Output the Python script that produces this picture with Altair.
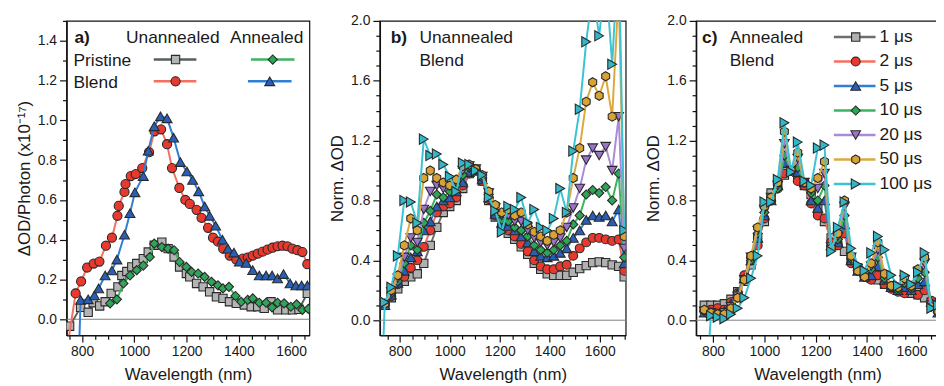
import altair as alt
import pandas as pd

FONT = "Liberation Sans"
INK = "#1a1a1a"
MSTROKE = "#2a2a2a"

# ---------------- Panel a data ----------------
wl_up = [752, 794, 823, 842, 867, 888, 911, 937, 952, 971, 990, 1009, 1034, 1053, 1076, 1105, 1129,
         1152, 1173, 1199, 1212, 1238, 1263, 1288, 1314, 1339, 1364, 1390, 1421, 1447, 1472, 1497,
         1523, 1548, 1580, 1605, 1630, 1662]
val_up = [-0.035, 0.06, 0.035, 0.083, 0.067, 0.088, 0.13, 0.163, 0.22, 0.24, 0.263, 0.28, 0.305,
          0.338, 0.372, 0.388, 0.355, 0.313, 0.263, 0.23, 0.213, 0.18, 0.163, 0.138, 0.113, 0.105,
          0.088, 0.08, 0.072, 0.063, 0.063, 0.055, 0.088, 0.047, 0.047, 0.047, 0.05, 0.13]

wl_ap = [907, 933, 958, 983, 1009, 1034, 1059, 1076, 1105, 1129, 1152, 1173, 1199, 1219, 1244, 1269,
         1295, 1320, 1339, 1362, 1387, 1409, 1434, 1453, 1478, 1504, 1527, 1548, 1573, 1599, 1621,
         1643, 1666]
val_ap = [0.08, 0.10, 0.18, 0.22, 0.247, 0.27, 0.313, 0.38, 0.363, 0.355, 0.347, 0.288, 0.263, 0.238,
          0.23, 0.213, 0.188, 0.17, 0.155, 0.163, 0.117, 0.088, 0.097, 0.105, 0.083, 0.083, 0.06,
          0.083, 0.08, 0.063, 0.075, 0.047, 0.052]

wl_ub = [742, 775, 796, 819, 844, 866, 891, 914, 935, 940, 962, 966, 986, 1005, 1030, 1056, 1077, 1102,
         1125, 1144, 1172, 1195, 1212, 1238, 1257, 1282, 1301, 1320, 1340, 1365, 1390, 1415, 1434,
         1453, 1472, 1491, 1510, 1529, 1548, 1567, 1586, 1605, 1624, 1643, 1662]
val_ub = [-0.15, 0.13, 0.19, 0.26, 0.28, 0.29, 0.37, 0.41, 0.52, 0.57, 0.64, 0.68, 0.72, 0.73, 0.76,
          0.84, 0.945, 0.955, 0.88, 0.76, 0.66, 0.60, 0.58, 0.55, 0.51, 0.46, 0.41, 0.39, 0.355,
          0.32, 0.30, 0.305, 0.31, 0.32, 0.33, 0.34, 0.35, 0.36, 0.367, 0.37, 0.367, 0.355, 0.347,
          0.338, 0.277]

wl_ab = [780, 794, 823, 847, 863, 888, 914, 933, 962, 983, 1002, 1034, 1053, 1076, 1100, 1125, 1150,
         1176, 1201, 1223, 1246, 1269, 1288, 1311, 1337, 1358, 1381, 1402, 1428, 1453, 1478, 1504,
         1527, 1548, 1571, 1596, 1618, 1640, 1662]
val_ab = [-0.5, 0.097, 0.1, 0.12, 0.155, 0.22, 0.245, 0.30, 0.425, 0.533, 0.638, 0.72, 0.847, 0.97,
          1.02, 1.01, 0.913, 0.79, 0.743, 0.70, 0.643, 0.567, 0.52, 0.47, 0.40, 0.355, 0.335, 0.29,
          0.283, 0.247, 0.22, 0.22, 0.22, 0.205, 0.227, 0.18, 0.17, 0.17, 0.17]

# ---------------- Panel b / c data ----------------
delays = ["1 μs", "2 μs", "5 μs", "10 μs", "20 μs", "50 μs", "100 μs"]

wl_b = [724, 740, 766, 792, 818, 844, 870, 896, 922, 948, 974, 1000, 1026, 1052, 1078, 1104, 1130,
        1156, 1182, 1208, 1234, 1260, 1286, 1312, 1338, 1364, 1390, 1416, 1442, 1468, 1494, 1520,
        1546, 1572, 1598, 1624, 1650, 1676, 1698]
N = None
b_1 = [N, 0.10, 0.15, 0.21, 0.26, 0.29, 0.31, 0.38, 0.50, 0.62, 0.72, 0.76, 0.80, 0.88, 0.98, 1.00,
       0.93, 0.80, 0.69, 0.62, 0.58, 0.54, 0.49, 0.44, 0.38, 0.34, 0.31, 0.30, 0.30, 0.30, 0.32,
       0.345, 0.365, 0.385, 0.39, 0.385, 0.37, 0.36, 0.29]
b_2 = [N, 0.10, 0.16, 0.24, 0.29, 0.35, 0.40, 0.49, 0.60, 0.72, 0.76, 0.78, 0.82, 0.90, 0.98, 1.00,
       0.93, 0.81, 0.70, 0.63, 0.60, 0.56, 0.51, 0.46, 0.40, 0.36, 0.34, 0.34, 0.36, 0.37, 0.43,
       0.48, 0.52, 0.55, 0.55, 0.54, 0.53, 0.54, 0.33]
b_5 = [N, 0.10, 0.17, 0.25, 0.33, 0.42, 0.46, 0.60, 0.66, 0.76, 0.80, 0.82, 0.86, 0.92, 0.99, 1.00,
       0.94, 0.82, 0.71, 0.65, 0.63, 0.60, 0.56, 0.52, 0.46, 0.43, 0.42, 0.43, 0.45, 0.48, 0.55,
       0.60, 0.67, 0.70, 0.69, 0.70, 0.66, 0.74, 0.38]
b_10 = [N, 0.11, 0.18, 0.26, 0.38, 0.50, 0.47, 0.65, 0.73, 0.84, 0.82, 0.86, 0.90, 0.97, 1.02, 1.01,
        0.95, 0.84, 0.73, 0.67, 0.66, 0.62, 0.60, 0.56, 0.50, 0.47, 0.45, 0.47, 0.50, 0.53, 0.64,
        0.70, 0.84, 0.87, 0.85, 0.89, 0.80, 0.98, 0.42]
b_20 = [N, 0.11, 0.19, 0.28, 0.42, 0.55, 0.52, 0.74, 0.86, 0.90, 0.88, 0.90, 0.92, 1.00, 1.03, 1.01,
        0.96, 0.85, 0.75, 0.70, 0.70, 0.66, 0.66, 0.60, 0.55, 0.52, 0.50, 0.52, 0.55, 0.62, 0.75,
        0.88, 1.07, 1.15, 1.10, 1.16, 1.00, 1.36, 0.48]
b_50 = [N, 0.11, 0.20, 0.30, 0.50, 0.68, 0.60, 0.95, 1.00, 0.95, 0.92, 0.90, 0.94, 1.03, 1.04, 1.01,
        0.97, 0.86, 0.77, 0.72, 0.74, 0.70, 0.72, 0.64, 0.59, 0.56, 0.53, 0.57, 0.60, 0.72, 0.95,
        1.15, 1.46, 1.59, 1.50, 1.63, 1.36, 2.20, 0.56]
b_100 = [-0.6, 0.12, 0.22, 0.43, 0.80, 0.79, 0.65, 1.21, 1.10, 1.11, 1.04, 0.96, 0.86, 1.05, 1.04,
         1.00, 0.97, 0.82, 0.73, 0.59, 0.76, 0.74, 0.82, 0.65, 0.74, 0.62, 0.60, 0.68, 0.88, 0.72,
         1.13, 1.41, 1.86, 2.20, 1.90, 2.30, 1.71, 2.50, 0.60]

wl_c = [766, 792, 818, 844, 870, 896, 922, 948, 974, 1000, 1026, 1052, 1078, 1104, 1130, 1156, 1182,
        1208, 1234, 1260, 1286, 1312, 1338, 1364, 1390, 1416, 1442, 1468, 1494, 1520, 1546, 1572,
        1598, 1624, 1650, 1676]
c_1 = [0.10, 0.10, 0.10, 0.11, 0.14, 0.19, 0.26, 0.37, 0.55, 0.66, 0.85, 0.92, 0.97, 1.00, 0.97, 0.90,
       0.84, 0.74, 0.66, 0.55, 0.50, 0.46, 0.40, 0.35, 0.30, 0.28, 0.27, 0.24, 0.22, 0.20, 0.19,
       0.18, 0.17, 0.15, 0.12, 0.08]
c_2 = [0.06, 0.07, 0.08, 0.07, 0.12, 0.18, 0.30, 0.42, 0.50, 0.68, 0.80, 0.88, 0.98, 1.00, 0.93, 0.90,
       0.78, 0.70, 0.68, 0.52, 0.50, 0.58, 0.38, 0.33, 0.29, 0.27, 0.30, 0.24, 0.21, 0.19, 0.18,
       0.20, 0.17, 0.20, 0.13, 0.06]
c_5 = [0.05, 0.05, 0.04, 0.06, 0.11, 0.18, 0.28, 0.40, 0.55, 0.70, 0.80, 0.90, 1.05, 1.00, 0.99, 0.92,
       0.80, 0.75, 0.80, 0.50, 0.52, 0.64, 0.40, 0.33, 0.29, 0.30, 0.36, 0.27, 0.22, 0.20, 0.22,
       0.20, 0.24, 0.26, 0.12, 0.05]
c_10 = [0.06, 0.05, 0.04, 0.05, 0.09, 0.17, 0.27, 0.40, 0.58, 0.72, 0.80, 0.88, 1.10, 1.00, 1.02, 0.92,
        0.85, 0.80, 0.90, 0.50, 0.54, 0.70, 0.41, 0.33, 0.29, 0.34, 0.42, 0.28, 0.22, 0.20, 0.25,
        0.21, 0.28, 0.32, 0.11, 0.05]
c_20 = [0.06, 0.05, 0.04, 0.05, 0.09, 0.16, 0.27, 0.42, 0.60, 0.74, 0.82, 0.90, 1.18, 1.00, 1.08, 0.92,
        0.87, 0.88, 0.98, 0.49, 0.56, 0.76, 0.42, 0.33, 0.29, 0.36, 0.47, 0.30, 0.23, 0.21, 0.27,
        0.22, 0.32, 0.38, 0.10, 0.05]
c_50 = [0.07, 0.05, 0.04, 0.04, 0.08, 0.15, 0.27, 0.43, 0.62, 0.76, 0.82, 0.92, 1.26, 1.00, 1.12, 0.92,
        0.88, 0.95, 1.06, 0.48, 0.58, 0.80, 0.43, 0.33, 0.29, 0.38, 0.52, 0.31, 0.23, 0.22, 0.28,
        0.23, 0.34, 0.42, 0.09, 0.06]
c_100 = [-0.6, 0.03, 0.02, 0.01, 0.04, 0.08, 0.15, 0.28, 0.43, 0.79, 0.79, 0.94, 1.32, 0.99, 1.19, 0.93,
         0.90, 1.15, 1.17, 0.46, 0.62, 0.79, 0.48, 0.37, 0.33, 0.45, 0.56, 0.47, 0.30, 0.23, 0.30,
         0.24, 0.32, 0.45, 0.08, 0.10]

b_vals = [b_1, b_2, b_5, b_10, b_20, b_50, b_100]
c_vals = [c_1, c_2, c_5, c_10, c_20, c_50, c_100]

HEX = "M0,-1L0.866,-0.5L0.866,0.5L0,1L-0.866,0.5L-0.866,-0.5Z"
d_shapes = ["square", "circle", "triangle-up", "diamond", "triangle-down", HEX, "triangle-right"]
d_sizes = [70, 80, 100, 85, 95, 85, 105]
d_fills = ["#b0b0b0", "#e8392e", "#2a5fb5", "#2fa55a", "#9b74c9", "#d9a234", "#33b6c6"]
d_lines = ["#6e6e6e", "#f4705f", "#2f7fd6", "#3bb560", "#a98bd8", "#dca93e", "#3cc3d3"]

one = pd.DataFrame({"k": [0]})


def x_axis(lo, hi, last_shift=0):
    vals = [v for v in range(750, 1701, 50) if lo <= v <= hi]
    return alt.Axis(values=vals, title="Wavelength (nm)",
                    labelExpr="datum.value % 200 == 0 ? format(datum.value, 'd') : ''",
                    tickSize={"condition": {"test": "datum.value % 200 != 0", "value": 4}, "value": 7},
                    labelOffset={"condition": {"test": "datum.value == 1600", "value": last_shift},
                                 "value": 0},
                    grid=False, domainColor="#111", domainWidth=1.5, tickColor="#111", tickWidth=1.2,
                    labelFont=FONT, labelFontSize=14, labelColor=INK, labelPadding=3,
                    labelOverlap=False, labelFlush=False,
                    titleFont=FONT, titleFontSize=17, titleFontWeight="normal", titleColor=INK,
                    titlePadding=8)


def y_axis(title, top, mult):
    vals = [round(i * 0.1, 1) for i in range(0, int(round(top * 10)) + 1)]
    test_minor = f"abs(datum.value*{mult} - round(datum.value*{mult})) > 0.01"
    return alt.Axis(values=vals, title=title,
                    labelExpr=f"{test_minor} ? '' : format(datum.value, '.1f')",
                    tickSize={"condition": {"test": test_minor, "value": 4}, "value": 7},
                    grid=False, domainColor="#111", domainWidth=1.5, tickColor="#111", tickWidth=1.2,
                    labelFont=FONT, labelFontSize=14, labelColor=INK, labelPadding=3,
                    labelOverlap=False, labelFlush=False,
                    titleFont=FONT, titleFontSize=17, titleFontWeight="normal", titleColor=INK,
                    titlePadding=4)


def series_layers(wl, vals, X, Y, shape, size, fill, line):
    df = pd.DataFrame({"wl": wl, "v": vals}).dropna()
    ln = alt.Chart(df).mark_line(color=line, strokeWidth=2, clip=True).encode(x=X, y=Y)
    pt = alt.Chart(df).mark_point(shape=shape, size=size, filled=True, fill=fill, stroke=MSTROKE,
                                  strokeWidth=1.1, opacity=1, fillOpacity=1, clip=True).encode(x=X, y=Y)
    return [ln, pt]


def txt(s, x, y, size=17.5, weight="normal", baseline="alphabetic"):
    return alt.Chart(one).mark_text(align="left", baseline=baseline, font=FONT, fontSize=size,
                                    fontWeight=weight, color=INK).encode(
        x=alt.value(x), y=alt.value(y), text=alt.value(s))


def leg_line(x1, x2, y, color):
    return alt.Chart(one).mark_rule(color=color, strokeWidth=2.5).encode(
        x=alt.value(x1), x2=alt.value(x2), y=alt.value(y))


def leg_pt(x, y, shape, size, fill):
    return alt.Chart(one).mark_point(shape=shape, size=size, filled=True, fill=fill, stroke=MSTROKE,
                                     strokeWidth=1.1, opacity=1, fillOpacity=1).encode(
        x=alt.value(x), y=alt.value(y))


def zero_line(Y):
    return alt.Chart(pd.DataFrame({"v": [0.0]})).mark_rule(color="#808080", strokeWidth=1).encode(y=Y)


# ---------------- Panel a ----------------
WA, H = 245, 317
xa_dom = [740, 1670]
Xa = alt.X("wl:Q", scale=alt.Scale(domain=xa_dom, nice=False, zero=False), axis=x_axis(*xa_dom))
Ya = alt.Y("v:Q", scale=alt.Scale(domain=[-0.08, 1.5], nice=False, zero=False),
           axis=y_axis("ΔOD/Photon (x10⁻¹⁷)", 1.5, 5))

a_layers = [zero_line(Ya)]
a_layers += series_layers(wl_up, val_up, Xa, Ya, "square", 70, "#b4b4b4", "#56605f")
a_layers += series_layers(wl_ap, val_ap, Xa, Ya, "diamond", 85, "#2fa55a", "#3bb560")
a_layers += series_layers(wl_ub, val_ub, Xa, Ya, "circle", 85, "#e8392e", "#f4705f")
a_layers += series_layers(wl_ab, val_ab, Xa, Ya, "triangle-up", 100, "#2a5fb5", "#2f7fd6")
a_layers += [
    txt("a)", 8, 22, weight="bold"),
    txt("Unannealed", 60, 22),
    txt("Annealed", 165, 22),
    txt("Pristine", 7, 45),
    txt("Blend", 7, 68),
    leg_line(88, 131, 39, "#56605f"), leg_pt(110, 39, "square", 70, "#b4b4b4"),
    leg_line(88, 131, 61, "#f4705f"), leg_pt(110, 61, "circle", 85, "#e8392e"),
    leg_line(186, 230, 39, "#3bb560"), leg_pt(208, 39, "diamond", 85, "#2fa55a"),
    leg_line(183, 227, 61, "#2f7fd6"), leg_pt(205, 61, "triangle-up", 100, "#2a5fb5"),
]
pa = alt.layer(*a_layers).properties(width=WA, height=H)

# ---------------- Panel b ----------------
WB = 248
xb_dom = [720, 1704]
Xb = alt.X("wl:Q", scale=alt.Scale(domain=xb_dom, nice=False, zero=False), axis=x_axis(*xb_dom))
Yb = alt.Y("v:Q", scale=alt.Scale(domain=[-0.1, 2.0], nice=False, zero=False),
           axis=y_axis("Norm. ΔOD", 2.0, 2.5))
b_layers = [zero_line(Yb)]
for i in range(len(delays)):
    b_layers += series_layers(wl_b, b_vals[i], Xb, Yb, d_shapes[i], d_sizes[i], d_fills[i], d_lines[i])
b_layers += [txt("b)", 11, 22, weight="bold"), txt("Unannealed", 40, 22), txt("Blend", 40, 45)]
pb = alt.layer(*b_layers).properties(width=WB, height=H)

# ---------------- Panel c ----------------
WC = 245
xc_dom = [734, 1680]
Xc = alt.X("wl:Q", scale=alt.Scale(domain=xc_dom, nice=False, zero=False),
           axis=x_axis(*xc_dom, last_shift=-7))
Yc = alt.Y("v:Q", scale=alt.Scale(domain=[-0.1, 2.0], nice=False, zero=False),
           axis=y_axis("Norm. ΔOD", 2.0, 2.5))
c_layers = [zero_line(Yc)]
for i in range(len(delays)):
    c_layers += series_layers(wl_c, c_vals[i], Xc, Yc, d_shapes[i], d_sizes[i], d_fills[i], d_lines[i])
c_layers += [txt("c)", 6, 22, weight="bold"), txt("Annealed", 34, 22), txt("Blend", 34, 45)]
for i, lab in enumerate(delays):
    yy = 16.3 + 24.7 * i
    c_layers += [leg_line(139, 181, yy, d_lines[i]),
                 leg_pt(161, yy, d_shapes[i], d_sizes[i], d_fills[i]),
                 txt(lab, 185, yy, baseline="middle")]
pc = alt.layer(*c_layers).properties(width=WC, height=H)

# Fixed-size canvas (936 x 378) so the right end of panel c is cut at the page edge,
# as in the reference figure.
chart = alt.hconcat(pa, pb, pc, spacing=71, bounds="flush").properties(
    autosize=alt.AutoSizeParams(type="none"),
    padding={"left": 59, "top": 10, "right": 877, "bottom": 368},
).configure(font=FONT).configure_view(stroke="#111", strokeWidth=1.2)

chart.save("out.html", embed_options={"renderer": "svg", "actions": False})
